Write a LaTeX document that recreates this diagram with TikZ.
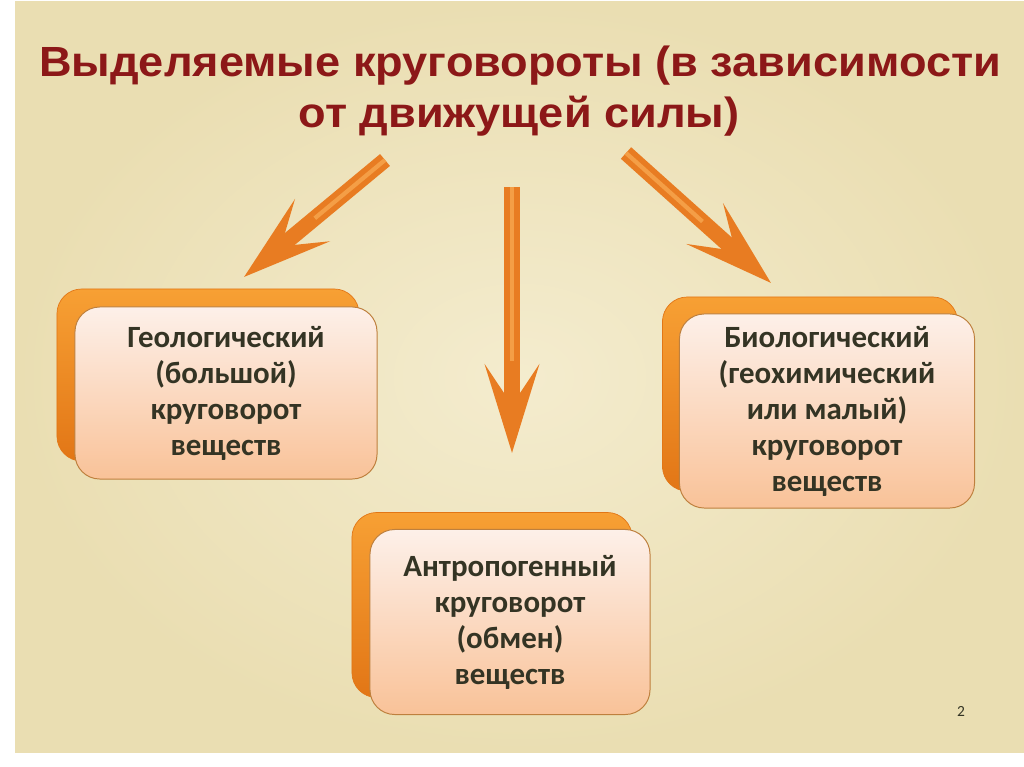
\documentclass[tikz,border=0pt]{standalone}
\usepackage{fontspec}
\setmainfont{Carlito}
\newfontfamily\titlefont[FakeStretch=1.07]{Liberation Sans}
\usetikzlibrary{arrows.meta}

\definecolor{parch}{RGB}{234,222,178}
\definecolor{parchlight}{RGB}{244,236,206}
\definecolor{titlered}{RGB}{140,24,24}
\definecolor{boxtext}{RGB}{52,52,36}
\definecolor{arrorange}{RGB}{232,124,34}
\definecolor{arrlight}{RGB}{244,158,70}
\definecolor{backorange}{RGB}{247,160,52}
\definecolor{backdark}{RGB}{226,118,22}
\definecolor{facetop}{RGB}{253,240,233}
\definecolor{facebot}{RGB}{249,194,152}
\definecolor{faceedge}{RGB}{190,128,62}

\tikzset{
    face/.style={rounded corners=0.62cm, top color=facetop, bottom color=facebot,
        draw=faceedge, line width=0.7pt, text=boxtext, align=center, inner sep=0pt,
        font=\fontsize{22}{25.6}\selectfont\bfseries},
    backface/.style={rounded corners=0.62cm, top color=backorange, bottom color=backdark,
        draw=backdark, line width=0.5pt, inner sep=0pt},
    heading/.style={text=titlered, anchor=base,
        font=\titlefont\fontsize{30}{36}\selectfont\bfseries},
    bigarrow/.style={line width=11pt, draw=arrorange, line cap=butt,
        -{Stealth[length=2.2cm, width=1.35cm, inset=1cm]}},
    shine/.style={line width=3pt, draw=arrlight, line cap=butt, shorten >=2.3cm}
}

\begin{document}
\begin{tikzpicture}[x=0.025cm, y=-0.025cm]
    \useasboundingbox (0,0) rectangle (1024,767);
    \fill[white] (0,0) rectangle (1024,767);
    \shade[inner color=parchlight, outer color=parch] (15,2) rectangle (1024,752);

    %%%%%%%%%%%%%%%%%%%%%%%%%%%%%%%%%%%%
    % heading
    %%%%%%%%%%%%%%%%%%%%%%%%%%%%%%%%%%%%
    \node[heading] (ttlA) at (520,77) {Выделяемые круговороты (в зависимости};
    \node[heading] (ttlB) at (519,128) {от движущей силы)};

    %%%%%%%%%%%%%%%%%%%%%%%%%%%%%%%%%%%%
    % boxes: orange back, light face on top
    %%%%%%%%%%%%%%%%%%%%%%%%%%%%%%%%%%%%
    \node[backface, minimum width=7.55cm, minimum height=4.3cm] (geoback) at (208,375) {};
    \node[face, minimum width=7.55cm, minimum height=4.3cm] (geo) at (226,393)
        {Геологический\\(большой)\\круговорот\\веществ};

    \node[backface, minimum width=7.375cm, minimum height=4.85cm] (bioback) at (810,394) {};
    \node[face, minimum width=7.375cm, minimum height=4.85cm] (bio) at (827,411)
        {Биологический\\(геохимический\\или малый)\\круговорот\\веществ};

    \node[backface, minimum width=7cm, minimum height=4.625cm] (antback) at (492,605) {};
    \node[face, minimum width=7cm, minimum height=4.625cm] (ant) at (510,622)
        {Антропогенный\\круговорот\\(обмен)\\веществ};

    %%%%%%%%%%%%%%%%%%%%%%%%%%%%%%%%%%%%
    % arrows
    %%%%%%%%%%%%%%%%%%%%%%%%%%%%%%%%%%%%
    \coordinate (ltail) at (385,160);
    \coordinate (ltip) at (244,277);
    \coordinate (ctail) at (512,187);
    \coordinate (ctip) at (512,453);
    \coordinate (rtail) at (626,153);
    \coordinate (rtip) at (771,283);

    \draw[bigarrow] (ltail) -- (ltip);
    \draw[bigarrow] (ctail) -- (ctip);
    \draw[bigarrow] (rtail) -- (rtip);
    \draw[shine] (ltail) -- (ltip);
    \draw[shine] (ctail) -- (ctip);
    \draw[shine] (rtail) -- (rtip);

    \node[text=boxtext, font=\fontsize{11}{13}\selectfont] (pagenum) at (961,711) {2};
\end{tikzpicture}
\end{document}
